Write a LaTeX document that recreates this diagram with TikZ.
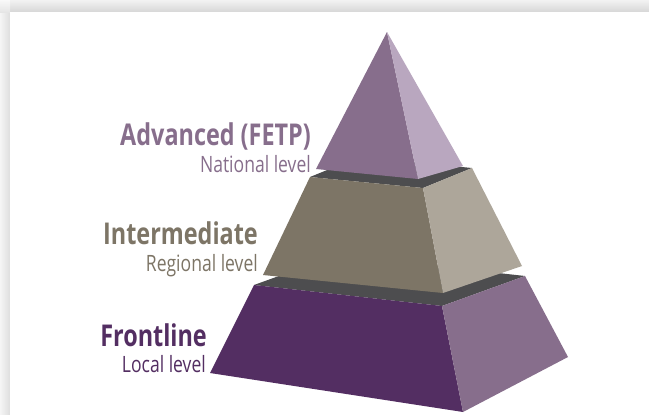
\documentclass[tikz,border=0pt]{standalone}
\usepackage{fontspec}
\setmainfont{Open Sans}[FakeStretch=0.78]
\definecolor{purA}{HTML}{876E8C}
\definecolor{purB}{HTML}{B9A7BF}
\definecolor{brnA}{HTML}{7D7566}
\definecolor{brnB}{HTML}{ADA69A}
\definecolor{purC}{HTML}{532E62}
\definecolor{band}{HTML}{4D4D4F}
\tikzset{
  face/.style={draw=none},
  title/.style={anchor=base east, inner sep=0pt, font=\fontsize{30}{32}\selectfont\bfseries},
  sub/.style={anchor=base east, inner sep=0pt, font=\fontsize{22.5}{24}\selectfont},
}
\begin{document}
\begin{tikzpicture}[x=1pt,y=-1pt]
\useasboundingbox (0,0) rectangle (649,415);
% background shadow
\fill[white] (0,0) rectangle (649,415);
\shade[top color=gray!10, bottom color=gray!32] (0,0) rectangle (649,12);
\shade[left color=gray!8, right color=gray!26] (0,12) rectangle (10,415);
\shade[top color=gray!5, bottom color=gray!20] (0,0) rectangle (10,12);
\fill[white] (10,12) rectangle (649,415);
% coordinates
\coordinate (apex) at (387,32);
\coordinate (tl) at (316,169);
\coordinate (tf) at (418,179);
\coordinate (tr) at (463,166);
\coordinate (it1) at (310,177);
\coordinate (it2) at (423,188);
\coordinate (it3) at (472,168);
\coordinate (it4) at (359,157);
\coordinate (ib1) at (263,275);
\coordinate (ib2) at (443,293);
\coordinate (ib3) at (522,266);
\coordinate (ft1) at (254,285);
\coordinate (ft2) at (442,306);
\coordinate (ft3) at (525,276);
\coordinate (ft4) at (337,255);
\coordinate (fb1) at (210,373);
\coordinate (fb2) at (463,412);
\coordinate (fb3) at (568,357);
% frontline tier
\fill[band] (ft1) -- (ft2) -- (ft3) -- (ft4) -- cycle;
\fill[purC] (ft1) -- (ft2) -- (fb2) -- (fb1) -- cycle;
\fill[purA] (ft2) -- (ft3) -- (fb3) -- (fb2) -- cycle;
% intermediate tier
\fill[band] (it1) -- (it2) -- (it3) -- (it4) -- cycle;
\fill[brnA] (it1) -- (it2) -- (ib2) -- (ib1) -- cycle;
\fill[brnB] (it2) -- (it3) -- (ib3) -- (ib2) -- cycle;
% top pyramid
\fill[purA] (apex) -- (tl) -- (tf) -- cycle;
\fill[purB] (apex) -- (tf) -- (tr) -- cycle;
% labels
\node[title, text=purA] (adv) at (311,145) {Advanced (FETP)};
\node[sub, text=purA] (nat) at (311,172) {National level};
\node[title, text=brnA] (int) at (258,244) {Intermediate};
\node[sub, text=brnA] (reg) at (258,271) {Regional level};
\node[title, text=purC] (fro) at (207,346) {Frontline};
\node[sub, text=purC] (loc) at (206,372) {Local level};
\end{tikzpicture}
\end{document}
